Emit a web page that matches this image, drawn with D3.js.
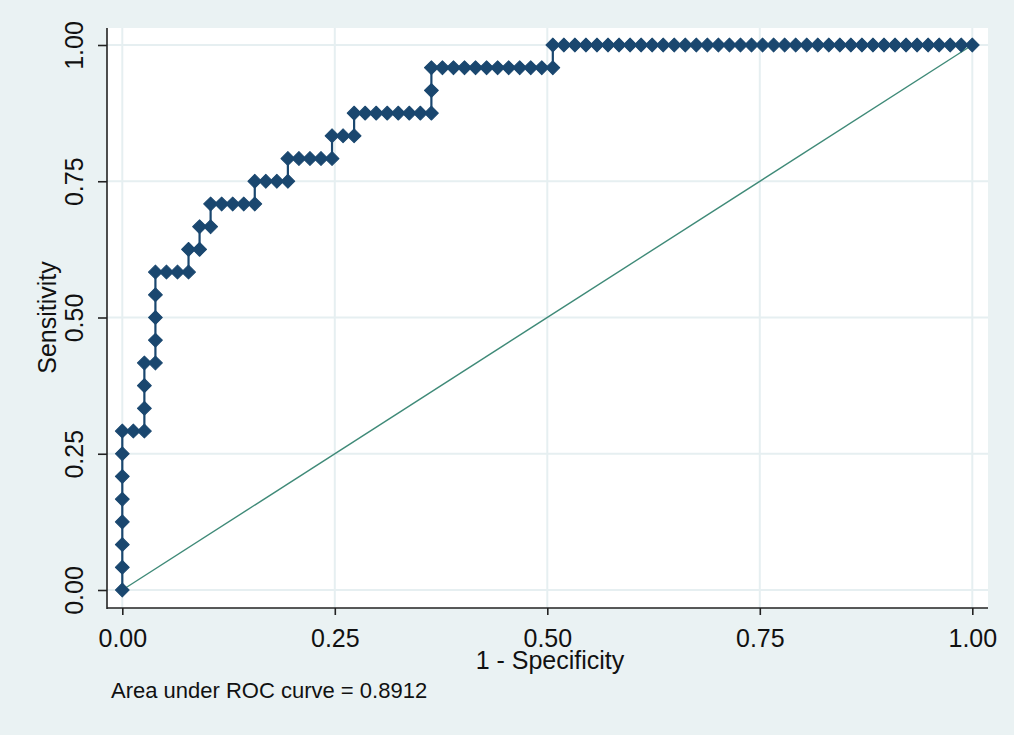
<!DOCTYPE html>
<html>
<head>
<meta charset="utf-8">
<script src="https://cdn.jsdelivr.net/npm/d3@7"></script>
<style>
  body { margin: 0; background: #eaf2f3; }
  svg { display: block; font-family: "Liberation Sans", Arial, sans-serif; }
</style>
</head>
<body>
<script>
//screen width and height
var w = 1014;
var h = 735;

// roc points, as counts of negatives / positives classified positive
var negatives = 77;
var positives = 24;

var falsePositives = [
  0, 0, 0, 0, 0, 0, 0, 0, 1, 2,
  2, 2, 2, 3, 3, 3, 3, 3, 4, 5,
  6, 6, 7, 7, 8, 8, 9, 10, 11, 12,
  12, 13, 14, 15, 15, 16, 17, 18, 19, 19,
  20, 21, 21, 22, 23, 24, 25, 26, 27, 28,
  28, 28, 29, 30, 31, 32, 33, 34, 35, 36,
  37, 38, 39, 39, 40, 41, 42, 43, 44, 45,
  46, 47, 48, 49, 50, 51, 52, 53, 54, 55,
  56, 57, 58, 59, 60, 61, 62, 63, 64, 65,
  66, 67, 68, 69, 70, 71, 72, 73, 74, 75,
  76, 77
];

var truePositives = [
  0, 1, 2, 3, 4, 5, 6, 7, 7, 7,
  8, 9, 10, 10, 11, 12, 13, 14, 14, 14,
  14, 15, 15, 16, 16, 17, 17, 17, 17, 17,
  18, 18, 18, 18, 19, 19, 19, 19, 19, 20,
  20, 20, 21, 21, 21, 21, 21, 21, 21, 21,
  22, 23, 23, 23, 23, 23, 23, 23, 23, 23,
  23, 23, 23, 24, 24, 24, 24, 24, 24, 24,
  24, 24, 24, 24, 24, 24, 24, 24, 24, 24,
  24, 24, 24, 24, 24, 24, 24, 24, 24, 24,
  24, 24, 24, 24, 24, 24, 24, 24, 24, 24,
  24, 24
];

var xTicks = [0, 0.25, 0.5, 0.75, 1];
var yTicks = [0, 0.25, 0.5, 0.75, 1];
var xTitle = "1 - Specificity";
var yTitle = "Sensitivity";
var aucNote = "Area under ROC curve = 0.8912";

var svg = d3.select("body")
  .append("svg")
  .attr("width", w)
  .attr("height", h);

// plot region edges (not "top": window.top is taken)
var plotLeft = 107, plotRight = 988, plotTop = 28, plotBottom = 608;

var x = d3.scaleLinear().domain([0, 1]).range([122.3, 972.3]);
var y = d3.scaleLinear().domain([0, 1]).range([590, 45]);

var navy = "#1a476f";
var grid = "#e6eff1";

svg.append("rect")
  .attr("x", plotLeft)
  .attr("y", plotTop)
  .attr("width", plotRight - plotLeft)
  .attr("height", plotBottom - plotTop)
  .style("fill", "#ffffff");

// grid lines
svg.selectAll(".hgrid")
  .data(yTicks).enter()
  .append("line")
  .attr("class", "hgrid")
  .attr("x1", plotLeft).attr("x2", plotRight)
  .attr("y1", function(d) { return y(d); })
  .attr("y2", function(d) { return y(d); })
  .style("stroke", grid)
  .style("stroke-width", 2);

svg.selectAll(".vgrid")
  .data(xTicks).enter()
  .append("line")
  .attr("class", "vgrid")
  .attr("y1", plotTop).attr("y2", plotBottom)
  .attr("x1", function(d) { return x(d); })
  .attr("x2", function(d) { return x(d); })
  .style("stroke", grid)
  .style("stroke-width", 2);

// axes
var xAxis = svg.append("g")
  .attr("transform", "translate(0," + plotBottom + ")")
  .call(d3.axisBottom(x).tickValues(xTicks).tickFormat(d3.format(".2f")).tickSize(7));

var yAxis = svg.append("g")
  .attr("transform", "translate(" + plotLeft + ",0)")
  .call(d3.axisLeft(y).tickValues(yTicks).tickFormat(d3.format(".2f")).tickSize(9));

[xAxis, yAxis].forEach(function(g) {
  g.select(".domain").remove();
  g.selectAll(".tick line").style("stroke", "#222").style("stroke-width", 1.6);
  g.selectAll(".tick text")
    .style("font-size", "25px")
    .style("fill", "#111")
    .attr("font-family", null);
});

xAxis.selectAll(".tick text")
  .attr("y", 39)
  .attr("dy", null);

yAxis.selectAll(".tick text")
  .attr("x", null)
  .attr("dy", null)
  .attr("text-anchor", "middle")
  .attr("transform", "translate(-24,0) rotate(-90)");

svg.append("line")
  .attr("x1", plotLeft).attr("x2", plotLeft)
  .attr("y1", plotTop).attr("y2", plotBottom + 1)
  .style("stroke", "#222")
  .style("stroke-width", 1.6);

svg.append("line")
  .attr("x1", plotLeft).attr("x2", plotRight)
  .attr("y1", plotBottom).attr("y2", plotBottom)
  .style("stroke", "#222")
  .style("stroke-width", 1.6);

// reference diagonal
svg.append("line")
  .attr("x1", x(0)).attr("y1", y(0))
  .attr("x2", x(1)).attr("y2", y(1))
  .style("stroke", "#3f8a78")
  .style("stroke-width", 1.4);

// roc curve
var points = falsePositives.map(function(fp, i) {
  return { fpr: fp / negatives, tpr: truePositives[i] / positives };
});

var line = d3.line()
  .x(function(d) { return x(d.fpr); })
  .y(function(d) { return y(d.tpr); });

svg.append("path")
  .datum(points)
  .attr("d", line)
  .style("fill", "none")
  .style("stroke", navy)
  .style("stroke-width", 2.2);

svg.selectAll(".marker")
  .data(points).enter()
  .append("path")
  .attr("class", "marker")
  .attr("d", d3.symbol(d3.symbolSquare, 96))
  .attr("transform", function(d) {
    return "translate(" + x(d.fpr) + "," + y(d.tpr) + ") rotate(45)";
  })
  .style("fill", navy)
  .style("stroke", navy)
  .style("stroke-width", 1)
  .style("stroke-linejoin", "round");

// titles
svg.append("text")
  .attr("x", 550)
  .attr("y", 669)
  .attr("text-anchor", "middle")
  .style("font-size", "25px")
  .style("fill", "#111")
  .text(xTitle);

svg.append("text")
  .attr("transform", "translate(56," + y(0.5) + ") rotate(-90)")
  .attr("text-anchor", "middle")
  .style("font-size", "25px")
  .style("fill", "#111")
  .text(yTitle);

svg.append("text")
  .attr("x", 111)
  .attr("y", 698)
  .style("font-size", "22px")
  .style("fill", "#111")
  .text(aucNote);
</script>
</body>
</html>
